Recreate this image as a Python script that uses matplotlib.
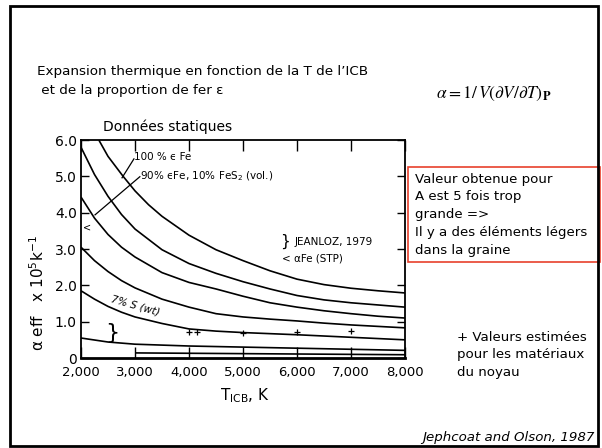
import matplotlib
matplotlib.use("Agg")
import matplotlib.pyplot as plt
from matplotlib.patches import Rectangle

W, H = 602, 448

# ICB temperature (K) and effective thermal expansion (x 1e-5 /K) for each curve
t_100fe = [2330, 2500, 2780, 3000, 3250, 3500, 4000, 4500, 5000, 5500, 6000, 6500, 7000, 7500, 8000]
a_100fe = [6.0, 5.55, 5.0, 4.6, 4.22, 3.9, 3.38, 2.98, 2.68, 2.4, 2.17, 2.02, 1.92, 1.85, 1.79]

t_90fe = [2000, 2250, 2500, 2750, 3000, 3500, 4000, 4500, 5000, 5500, 6000, 6500, 7000, 7500, 8000]
a_90fe = [5.8, 5.05, 4.45, 3.95, 3.55, 2.98, 2.6, 2.33, 2.1, 1.9, 1.72, 1.6, 1.52, 1.46, 1.40]

t_c3 = [2000, 2250, 2500, 2750, 3000, 3500, 4000, 4500, 5000, 5500, 6000, 6500, 7000, 7500, 8000]
a_c3 = [4.43, 3.85, 3.4, 3.05, 2.78, 2.35, 2.08, 1.9, 1.7, 1.52, 1.4, 1.3, 1.22, 1.15, 1.10]

t_c4 = [2000, 2250, 2500, 2750, 3000, 3500, 4000, 4500, 5000, 5500, 6000, 6500, 7000, 7500, 8000]
a_c4 = [3.05, 2.68, 2.38, 2.13, 1.93, 1.62, 1.4, 1.22, 1.13, 1.07, 1.02, 0.96, 0.91, 0.87, 0.83]

t_7s = [2000, 2250, 2500, 2750, 3000, 3500, 4000, 4500, 5000, 6000, 7000, 8000]
a_7s = [1.85, 1.62, 1.42, 1.26, 1.13, 0.95, 0.8, 0.74, 0.70, 0.64, 0.57, 0.50]

t_c6 = [2000, 2500, 3000, 4000, 5000, 6000, 7000, 8000]
a_c6 = [0.55, 0.44, 0.38, 0.33, 0.30, 0.27, 0.24, 0.21]

t_c7 = [3000, 4000, 5000, 6000, 7000, 8000]
a_c7 = [0.14, 0.13, 0.12, 0.11, 0.10, 0.09]

# estimated values for core materials
t_core = [4000, 4150, 5000, 6000, 7000]
a_core = [0.72, 0.72, 0.69, 0.72, 0.74]

x_ticks = [2000, 3000, 4000, 5000, 6000, 7000, 8000]
x_labels = ["2,000", "3,000", "4,000", "5,000", "6,000", "7,000", "8,000"]
y_ticks = [0, 1, 2, 3, 4, 5, 6]
y_labels = ["0", "1.0", "2.0", "3.0", "4.0", "5.0", "6.0"]


def fx(x):
    return x / W


def fy(y):
    return 1 - y / H


fig = plt.figure(figsize=(W / 100, H / 100), dpi=100)
fig.patch.set_facecolor("white")

ax = fig.add_axes([fx(81), fy(358), (405 - 81) / W, (358 - 140) / H])
for t, a in [(t_100fe, a_100fe), (t_90fe, a_90fe), (t_c3, a_c3), (t_c4, a_c4),
             (t_7s, a_7s), (t_c6, a_c6), (t_c7, a_c7)]:
    ax.plot(t, a, color="black", lw=1.2, solid_capstyle="butt", solid_joinstyle="round")
ax.plot(t_core, a_core, ls="none", marker="+", ms=5, mew=0.9, color="black")

ax.set_xlim(2000, 8000)
ax.set_ylim(0, 6.0)
ax.set_xticks(x_ticks)
ax.set_xticklabels(x_labels)
ax.set_yticks(y_ticks)
ax.set_yticklabels(y_labels)
ax.tick_params(direction="in", top=True, right=True, length=6, width=1,
               labelsize=10, pad=3)
ax.tick_params(axis="x", length=8, pad=6, labelsize=9.5)
for s in ax.spines.values():
    s.set_linewidth(1.3)
ax.spines["bottom"].set_linewidth(2)

# in-plot annotations
ax.text(2980, 5.54, "100 % ϵ Fe", fontsize=7.5, va="center", ha="left")
ax.plot([2980, 2760], [5.48, 4.96], color="black", lw=0.9)
ax.text(3090, 4.99, "90% ϵFe, 10% FeS$_2$ (vol.)", fontsize=7.5, va="center", ha="left")
ax.plot([3090, 2260], [4.99, 3.94], color="black", lw=0.9)
ax.text(5680, 3.22, "}", fontsize=11, va="center", ha="left")
ax.text(5960, 3.2, "JEANLOZ, 1979", fontsize=7.5, va="center", ha="left")
ax.text(5720, 2.73, "< αFe (STP)", fontsize=7.5, va="center", ha="left")
ax.text(2030, 3.58, "<", fontsize=7, va="center", ha="left")
ax.text(3000, 1.45, "7% S (wt)", fontsize=7.5, va="center", ha="center",
        rotation=-16, style="italic")
ax.text(2450, 0.69, "}", fontsize=16, va="center", ha="left")

# axis titles
fig.text(fx(245), fy(396), "T$_{\\mathrm{ICB}}$, K", fontsize=11, ha="center", va="center")
fig.text(fx(38), fy(293), "α eff   x 10$^{5}$k$^{-1}$", fontsize=11, rotation=90,
         ha="center", va="center")

# slide texts
fig.text(fx(37), fy(72), "Expansion thermique en fonction de la T de l’ICB",
         fontsize=9.7, va="center", ha="left")
fig.text(fx(37), fy(90), " et de la proportion de fer ε", fontsize=9.7,
         va="center", ha="left")
fig.text(fx(436), fy(94), r"$\alpha = 1/\,V(\partial V/\partial T)_{\mathbf{P}}$",
         fontsize=12.5, va="center", ha="left", math_fontfamily="stix")
fig.text(fx(103), fy(127), "Données statiques", fontsize=10, va="center", ha="left")

fig.add_artist(Rectangle((fx(408), fy(262)), (600 - 408) / W, (262 - 167) / H,
                         transform=fig.transFigure, fill=False,
                         edgecolor="#e8412c", lw=1.2))
for i, line in enumerate(["Valeur obtenue pour", "A est 5 fois trop", "grande =>",
                          "Il y a des éléments légers", "dans la graine"]):
    fig.text(fx(415), fy(179 + 17.8 * i), line, fontsize=9.6, va="center", ha="left")

for i, line in enumerate(["+ Valeurs estimées", "pour les matériaux", "du noyau"]):
    fig.text(fx(457), fy(337 + 17.5 * i), line, fontsize=9.6, va="center", ha="left")

fig.text(fx(595), fy(437), "Jephcoat and Olson, 1987", fontsize=9.6, style="italic",
         va="center", ha="right")

fig.add_artist(Rectangle((fx(10), fy(446)), (598 - 10) / W, (446 - 6) / H,
                         transform=fig.transFigure, fill=False,
                         edgecolor="black", lw=2))

fig.savefig("out.png", dpi=100)
